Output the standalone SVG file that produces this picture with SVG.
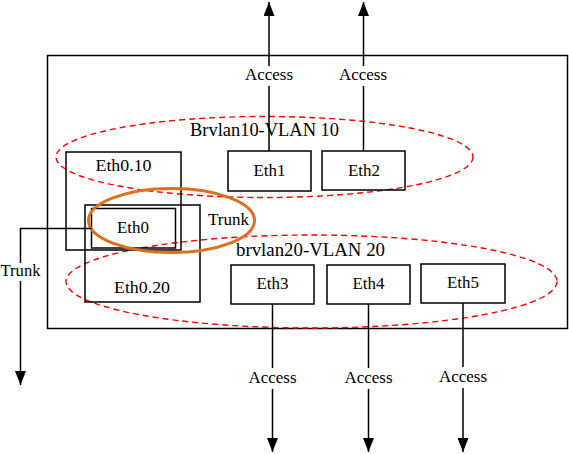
<svg xmlns="http://www.w3.org/2000/svg" width="569" height="454" viewBox="0 0 569 454">
<defs>
<marker id="arr" markerUnits="userSpaceOnUse" markerWidth="14" markerHeight="11" viewBox="0 0 14 11" refX="14" refY="5.5" orient="auto">
<path d="M0,0 L14,5.5 L0,11 Z" fill="#000"/>
</marker>
</defs>
<style>
.box{fill:none;stroke:#000;stroke-width:1.5}
.ln{fill:none;stroke:#000;stroke-width:1.5}
.vlan{fill:none;stroke:#ff0000;stroke-width:1.4;stroke-dasharray:6,4}
.t{font-family:"Liberation Serif",serif;font-size:16px;fill:#000;text-anchor:middle}
.tt{font-family:"Liberation Serif",serif;font-size:18px;fill:#000}
</style>
<rect width="569" height="454" fill="#fff"/>
<g id="switch"><rect class="box" x="47.5" y="55.5" width="520" height="273"/></g>
<g id="vlan10"><ellipse class="vlan" cx="264.5" cy="157" rx="208.5" ry="40.5"/><text class="tt" x="190" y="136" textLength="149" lengthAdjust="spacingAndGlyphs">Brvlan10-VLAN 10</text></g>
<g id="vlan20"><ellipse class="vlan" cx="311.5" cy="281.5" rx="245.5" ry="46.5"/><text class="tt" x="236" y="256" textLength="149" lengthAdjust="spacingAndGlyphs">brvlan20-VLAN 20</text></g>
<g id="eth0_10"><rect class="box" x="66" y="152" width="115" height="98"/><text class="t" x="123.5" y="171" textLength="56" lengthAdjust="spacingAndGlyphs">Eth0.10</text></g>
<g id="eth0_20"><rect class="box" x="85" y="205" width="115" height="97"/><text class="t" x="142" y="293" textLength="56" lengthAdjust="spacingAndGlyphs">Eth0.20</text></g>
<g id="eth0"><rect class="box" x="91.5" y="208.5" width="84" height="39.5"/><text class="t" x="133" y="233" textLength="32" lengthAdjust="spacingAndGlyphs">Eth0</text></g>
<g id="eth1"><rect class="box" x="228" y="151" width="83" height="40"/><text class="t" x="269.5" y="176" textLength="32" lengthAdjust="spacingAndGlyphs">Eth1</text></g>
<g id="eth2"><rect class="box" x="322" y="151" width="83" height="39"/><text class="t" x="364" y="176" textLength="32" lengthAdjust="spacingAndGlyphs">Eth2</text></g>
<g id="eth3"><rect class="box" x="231" y="265" width="83" height="39"/><text class="t" x="272.5" y="289" textLength="32" lengthAdjust="spacingAndGlyphs">Eth3</text></g>
<g id="eth4"><rect class="box" x="327" y="265" width="83" height="39"/><text class="t" x="368.5" y="289" textLength="32" lengthAdjust="spacingAndGlyphs">Eth4</text></g>
<g id="eth5"><rect class="box" x="421" y="264" width="84" height="39"/><text class="t" x="463" y="288" textLength="32" lengthAdjust="spacingAndGlyphs">Eth5</text></g>
<g id="trunk_group"><ellipse cx="171.5" cy="220.5" rx="83" ry="32" fill="none" stroke="#D9711E" stroke-width="3"/><text class="t" x="228.5" y="225" textLength="41" lengthAdjust="spacingAndGlyphs">Trunk</text></g>
<g id="connectors">
<line class="ln" x1="269" y1="66" x2="269" y2="2" marker-end="url(#arr)"/>
<line class="ln" x1="269" y1="86" x2="269" y2="151"/>
<line class="ln" x1="363.5" y1="66" x2="363.5" y2="2" marker-end="url(#arr)"/>
<line class="ln" x1="363.5" y1="86" x2="363.5" y2="151"/>
<text class="t" x="269" y="80" textLength="48" lengthAdjust="spacingAndGlyphs">Access</text>
<text class="t" x="363" y="80" textLength="48" lengthAdjust="spacingAndGlyphs">Access</text>
<line class="ln" x1="272.5" y1="304" x2="272.5" y2="368"/>
<line class="ln" x1="272.5" y1="389" x2="272.5" y2="452" marker-end="url(#arr)"/>
<line class="ln" x1="368.5" y1="304" x2="368.5" y2="368"/>
<line class="ln" x1="368.5" y1="389" x2="368.5" y2="452" marker-end="url(#arr)"/>
<line class="ln" x1="463" y1="303" x2="463" y2="367"/>
<line class="ln" x1="463" y1="388" x2="463" y2="452" marker-end="url(#arr)"/>
<text class="t" x="272.5" y="383" textLength="48" lengthAdjust="spacingAndGlyphs">Access</text>
<text class="t" x="368.5" y="383" textLength="48" lengthAdjust="spacingAndGlyphs">Access</text>
<text class="t" x="463" y="382" textLength="48" lengthAdjust="spacingAndGlyphs">Access</text>
<polyline class="ln" points="91.5,228.5 20.5,228.5 20.5,263"/>
<line class="ln" x1="20.5" y1="281" x2="20.5" y2="385" marker-end="url(#arr)"/>
<text class="t" x="20.5" y="276" textLength="40" lengthAdjust="spacingAndGlyphs">Trunk</text>
</g>
</svg>
